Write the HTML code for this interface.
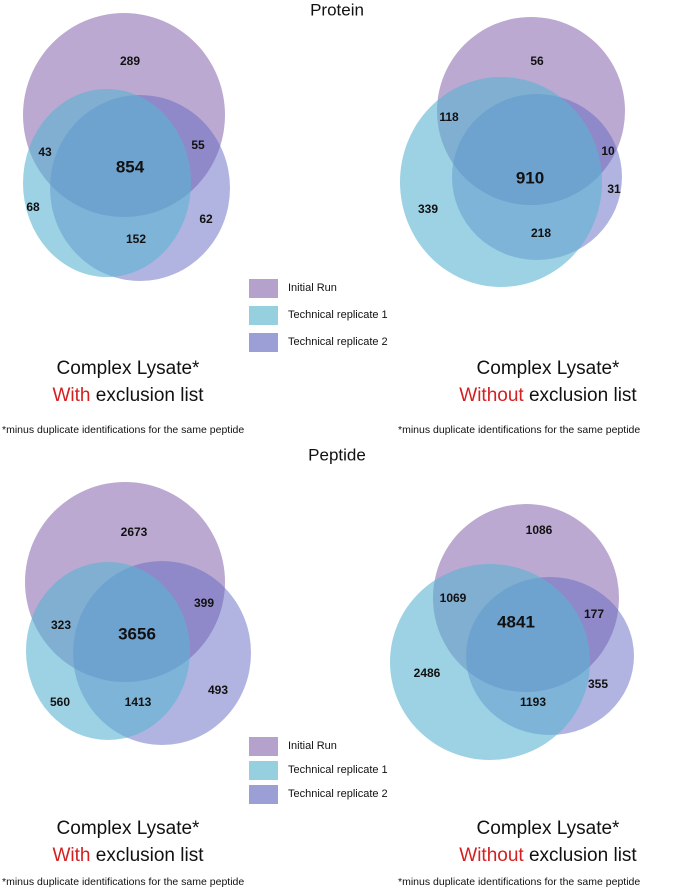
<!DOCTYPE html>
<html><head><meta charset="utf-8">
<style>
html,body{margin:0;padding:0;background:#fff;}
svg{display:block;font-family:"Liberation Sans",sans-serif;}
.n{font-weight:bold;font-size:12px;fill:#111;text-anchor:middle;dominant-baseline:middle;}
.c{font-size:17px;fill:#111;text-anchor:middle;dominant-baseline:middle;}
.big{font-size:19px;fill:#111;text-anchor:middle;dominant-baseline:middle;}
.lg{font-size:11px;fill:#111;dominant-baseline:middle;}
.fn{font-size:10.5px;fill:#111;}
</style></head><body>
<svg id="chart" width="674" height="891" viewBox="0 0 674 891" xmlns="http://www.w3.org/2000/svg">
<text x="337" y="11" class="c">Protein</text>
<text x="337" y="456" class="c">Peptide</text>
<g id="venns"></g>
<g id="legends"></g>
<g>
<text x="128" y="369" class="big">Complex Lysate*</text>
<text x="128" y="396" class="big"><tspan fill="#d42020">With</tspan> exclusion list</text>
<text x="2" y="433" class="fn">*minus duplicate identifications for the same peptide</text></g>
<g>
<text x="548" y="369" class="big">Complex Lysate*</text>
<text x="548" y="396" class="big"><tspan fill="#d42020">Without</tspan> exclusion list</text>
<text x="398" y="433" class="fn">*minus duplicate identifications for the same peptide</text></g>
<g>
<text x="128" y="829" class="big">Complex Lysate*</text>
<text x="128" y="856" class="big"><tspan fill="#d42020">With</tspan> exclusion list</text>
<text x="2" y="885" class="fn">*minus duplicate identifications for the same peptide</text></g>
<g>
<text x="548" y="829" class="big">Complex Lysate*</text>
<text x="548" y="856" class="big"><tspan fill="#d42020">Without</tspan> exclusion list</text>
<text x="398" y="885" class="fn">*minus duplicate identifications for the same peptide</text></g>
</svg>
<script>
// region counts: [initialOnly, init∩rep1, all, init∩rep2, rep1Only, rep2Only, rep1∩rep2]
const proteinWith = [289, 43, 854, 55, 68, 62, 152];
const proteinWithout = [56, 118, 910, 10, 339, 31, 218];
const peptideWith = [2673, 323, 3656, 399, 560, 493, 1413];
const peptideWithout = [1086, 1069, 4841, 177, 2486, 355, 1193];
const seriesNames = ["Initial Run", "Technical replicate 1", "Technical replicate 2"];

const NS = "http://www.w3.org/2000/svg";
const fills = ["#bba9d1", "rgba(90,180,210,0.6)", "rgba(100,105,195,0.5)"];
const drawOrder = [0, 2, 1];
const layouts = [
  {name:"protein-with", values:proteinWith,
   circles:[[124,115,101,102],[107,183,84,94],[140,188,90,93]],
   labels:[[130,62],[45,153],[130,168],[198,146],[33,208],[206,220],[136,240]]},
  {name:"protein-without", values:proteinWithout,
   circles:[[531,111,94,94],[501,182,101,105],[537,177,85,83]],
   labels:[[537,62],[449,118],[530,179],[608,152],[428,210],[614,190],[541,234]]},
  {name:"peptide-with", values:peptideWith,
   circles:[[125,582,100,100],[108,651,82,89],[162,653,89,92]],
   labels:[[134,533],[61,626],[137,635],[204,604],[60,703],[218,691],[138,703]]},
  {name:"peptide-without", values:peptideWithout,
   circles:[[526,598,93,94],[490,662,100,98],[550,656,84,79]],
   labels:[[539,531],[453,599],[516,623],[594,615],[427,674],[598,685],[533,703]]}
];
const venns = document.getElementById("venns");
layouts.forEach(L => {
  const g = document.createElementNS(NS, "g");
  
  
  drawOrder.forEach(i => {
    const c = L.circles[i];
    const e = document.createElementNS(NS, "ellipse");
    e.setAttribute("cx", c[0]); e.setAttribute("cy", c[1]);
    e.setAttribute("rx", c[2]); e.setAttribute("ry", c[3]);
    e.setAttribute("fill", fills[i]);
    
    
    g.appendChild(e);
  });
  L.values.forEach((v, i) => {
    const t = document.createElementNS(NS, "text");
    t.setAttribute("x", L.labels[i][0]); t.setAttribute("y", L.labels[i][1]);
    t.setAttribute("class", "n");
    if (i === 2) { t.setAttribute("style", "font-size:17px;font-weight:bold"); }
    t.textContent = v;
    
    
    g.appendChild(t);
  });
  venns.appendChild(g);
});
const legendFills = ["#b4a2cc", "#96cfdd", "#9b9fd6"];
const legendSets = [[288, 27], [746, 24]];
const legends = document.getElementById("legends");
legendSets.forEach((ls, k) => {
  const g = document.createElementNS(NS, "g");
  
  
  seriesNames.forEach((n, i) => {
    const y = ls[0] + i * ls[1];
    const r = document.createElementNS(NS, "rect");
    r.setAttribute("x", 249); r.setAttribute("y", y - 9);
    r.setAttribute("width", 29); r.setAttribute("height", 19);
    r.setAttribute("fill", legendFills[i]);
    
    
    g.appendChild(r);
    const t = document.createElementNS(NS, "text");
    t.setAttribute("x", 288); t.setAttribute("y", y);
    t.setAttribute("class", "lg");
    t.textContent = n;
    
    
    g.appendChild(t);
  });
  legends.appendChild(g);
});
</script>
</body></html>
